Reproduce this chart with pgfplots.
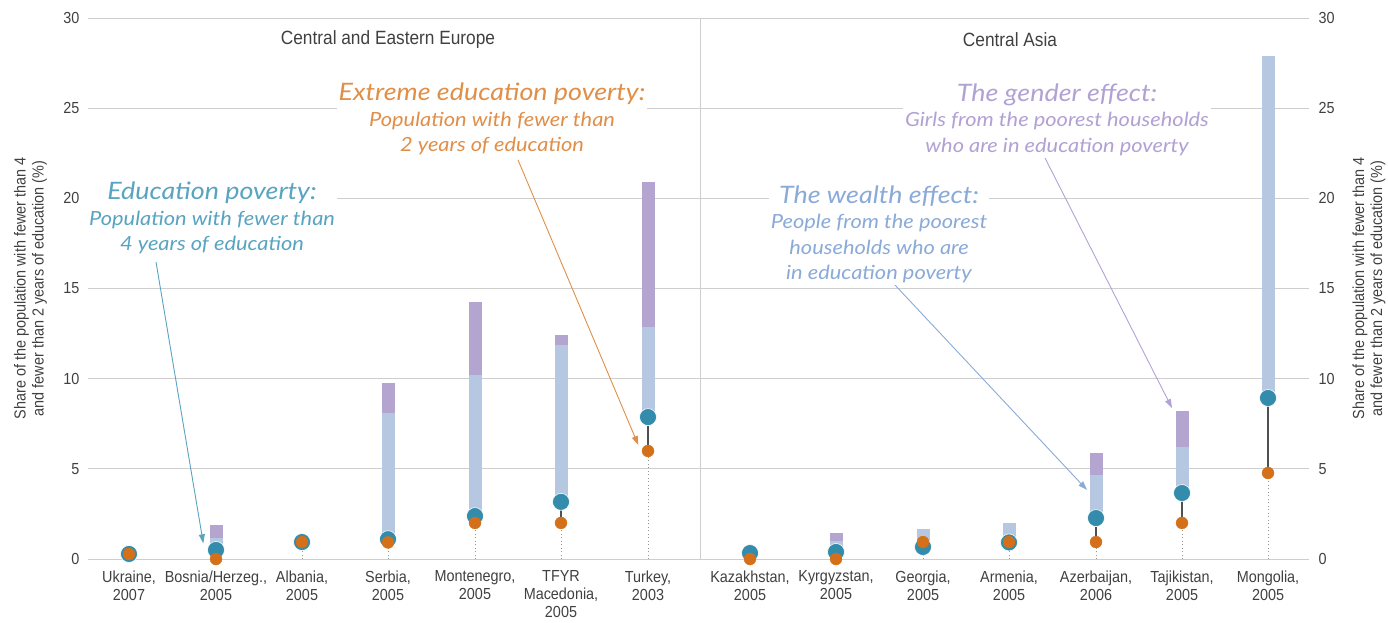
\documentclass[border=0pt]{standalone}
\usepackage{pgfplots}
\usepackage{pgfplotstable}
\pgfplotsset{compat=1.18}
\usetikzlibrary{arrows.meta}
\usepackage{fontspec}
\setmainfont{Liberation Sans}[FakeStretch=0.9]
\newfontfamily\annot{Lato}[FakeStretch=1.12]

\definecolor{txt}{RGB}{64,64,64}
\definecolor{gridc}{RGB}{206,206,206}
\definecolor{dotc}{RGB}{150,150,150}
\definecolor{dotblue}{RGB}{52,140,172}
\definecolor{dotorange}{RGB}{211,112,25}
\definecolor{barblue}{RGB}{182,200,225}
\definecolor{barpurple}{RGB}{180,164,208}
\definecolor{linec}{RGB}{80,80,80}
\definecolor{anteal}{RGB}{88,164,193}
\definecolor{anorange}{RGB}{224,143,72}
\definecolor{anblue}{RGB}{138,170,216}
\definecolor{anpurple}{RGB}{178,161,212}

\newcommand{\tickfont}{\fontsize{16}{18}\selectfont}

% x = category position, blue = fewer than 4 years, orange = fewer than 2 years
\pgfplotstableread{
x blue orange
129 0.28 0.28
216 0.50 0.00
302 0.94 0.94
388 1.10 0.92
475 2.38 2.00
561 3.17 2.00
648 7.87 5.99
750 0.33 0.00
836 0.39 0.00
923 0.67 0.94
1009 0.92 0.94
1096 2.27 0.94
1182 3.66 2.00
1268 8.93 4.77
}\dots

% poorest households (wealth effect)
\pgfplotstableread{
x base lbtop
216 0.50 1.17
388 1.10 8.10
475 2.38 10.20
561 3.17 11.87
648 7.87 12.87
836 0.39 1.00
923 0.67 1.66
1009 0.92 2.00
1096 2.27 4.66
1182 3.66 6.21
1268 8.93 27.90
}\wealth

% girls from poorest households (gender effect)
\pgfplotstableread{
x lbtop putop
216 1.17 1.89
388 8.10 9.76
475 10.20 14.25
561 11.87 12.42
648 12.87 20.90
836 1.00 1.44
1096 4.66 5.88
1182 6.21 8.21
}\gender

\pgfplotsset{
  rangebar/.style 2 args={only marks, mark=*, mark size=0pt, mark options={draw=none, fill=none}, forget plot,
    error bars/.cd, y dir=plus, y explicit, error mark=none, error bar style={draw=#1, line width=#2}},
}

\begin{document}
\begin{tikzpicture}
\useasboundingbox (-88pt,-63pt) rectangle (1300pt,559pt);
\begin{axis}[
  at={(0,0)}, anchor=south west,
  scale only axis, width=1221pt, height=541pt,
  xmin=88, xmax=1309, ymin=0, ymax=30,
  clip=false,
  axis line style={draw=none},
  major tick length=0pt,
  ytick={0,5,...,30},
  ymajorgrids, grid style={color=gridc, line width=0.9pt},
  xtick={129,216,302,388,475,561,648,750,836,923,1009,1096,1182,1268},
  xticklabels={{Ukraine,\\2007},{Bosnia/Herzeg.,\\2005},{Albania,\\2005},{Serbia,\\2005},{Montenegro,\\2005},{TFYR\\Macedonia,\\2005},{Turkey,\\2003},{Kazakhstan,\\2005},{Kyrgyzstan,\\2005},{Georgia,\\2005},{Armenia,\\2005},{Azerbaijan,\\2006},{Tajikistan,\\2005},{Mongolia,\\2005}},
  xticklabel style={align=center, font=\tickfont, text=txt, anchor=north, yshift=-8pt},
  yticklabel style={font=\tickfont, text=txt, xshift=-5pt},
  /pgf/number format/assume math mode=true,
  ylabel={Share of the population with fewer than 4\\and fewer than 2 years of education (\%)},
  ylabel style={font=\tickfont, text=txt, align=center, at={(axis description cs:-0.0471,0.5)}, anchor=center},
]
\draw[gridc, line width=0.9pt] (axis cs:700,0) -- (axis cs:700,30);

\addplot[ycomb, forget plot, color=dotc, dash pattern=on 1pt off 2.5pt, line width=0.8pt, mark=none] table[x=x,y=orange]{\dots};

\addplot[rangebar={barblue}{13pt}] table[x=x, y=base, y error plus expr={\thisrow{lbtop}-\thisrow{base}}]{\wealth};

\addplot[rangebar={barpurple}{13pt}] table[x=x, y=lbtop, y error plus expr={\thisrow{putop}-\thisrow{lbtop}}]{\gender};

\addplot[rangebar={linec}{1.4pt}] table[x=x, y=orange, y error plus expr={\thisrow{blue}-\thisrow{orange}}]{\dots};

\addplot[only marks, mark=*, mark size=8.5pt, mark options={fill=dotblue, draw=white, line width=0.6pt}] table[x=x,y=blue]{\dots};

\addplot[only marks, mark=*, mark size=6pt, mark options={fill=dotorange, draw=dotorange, line width=0.3pt}] table[x=x,y=orange]{\dots};

\node[font=\fontsize{19.2}{21}\selectfont, text=txt] at (axis cs:388,28.78) {Central and Eastern Europe};
\node[font=\fontsize{19.2}{21}\selectfont, text=txt] at (axis cs:1010,28.78) {Central Asia};

\draw[anteal, line width=0.9pt, -{Triangle[length=9pt,width=6pt]}] (axis cs:156,16.47) -- (axis cs:203.3,0.87);
\draw[anorange, line width=0.9pt, -{Triangle[length=9pt,width=6pt]}] (axis cs:518,22.13) -- (axis cs:638.3,6.32);
\draw[anblue, line width=0.9pt, -{Triangle[length=9pt,width=6pt]}] (axis cs:893,15.31) -- (axis cs:1087,3.83);
\draw[anpurple, line width=0.9pt, -{Triangle[length=9pt,width=6pt]}] (axis cs:1045,22.24) -- (axis cs:1172,8.37);

\node[fill=white, inner sep=2pt, align=center, text=anteal, font=\annot\itshape\fontsize{19.5}{25.5}\selectfont] at (axis cs:212,18.91)
 {{\fontsize{24}{25.5}\selectfont Education poverty:}\\Population with fewer than\\4 years of education};
\node[fill=white, inner sep=2pt, align=center, text=anorange, font=\annot\itshape\fontsize{19.5}{25.5}\selectfont] at (axis cs:492,24.4)
 {{\fontsize{24}{25.5}\selectfont Extreme education poverty:}\\Population with fewer than\\2 years of education};
\node[fill=white, inner sep=2pt, align=center, text=anblue, font=\annot\itshape\fontsize{19.5}{25.5}\selectfont] at (axis cs:879,18.0)
 {{\fontsize{24}{25.5}\selectfont The wealth effect:}\\People from the poorest\\households who are\\in education poverty};
\node[fill=white, inner sep=2pt, align=center, text=anpurple, font=\annot\itshape\fontsize{19.5}{25.5}\selectfont] at (axis cs:1057,24.37)
 {{\fontsize{24}{25.5}\selectfont The gender effect:}\\Girls from the poorest households\\who are in education poverty};
\end{axis}
\begin{axis}[
  at={(0,0)}, anchor=south west,
  scale only axis, width=1221pt, height=541pt,
  xmin=88, xmax=1309, ymin=0, ymax=30,
  axis line style={draw=none},
  major tick length=0pt,
  xtick=\empty,
  ytick={0,5,...,30},
  yticklabel pos=right,
  yticklabel style={font=\tickfont, text=txt, xshift=6pt},
  /pgf/number format/assume math mode=true,
  ylabel={Share of the population with fewer than 4\\and fewer than 2 years of education (\%)},
  ylabel style={font=\tickfont, text=txt, align=center, at={(axis description cs:1.0491,0.5)}, anchor=center},
]
\addplot[draw=none, mark=none, forget plot] coordinates {(100,0) (200,1)};
\end{axis}
\end{tikzpicture}
\end{document}
